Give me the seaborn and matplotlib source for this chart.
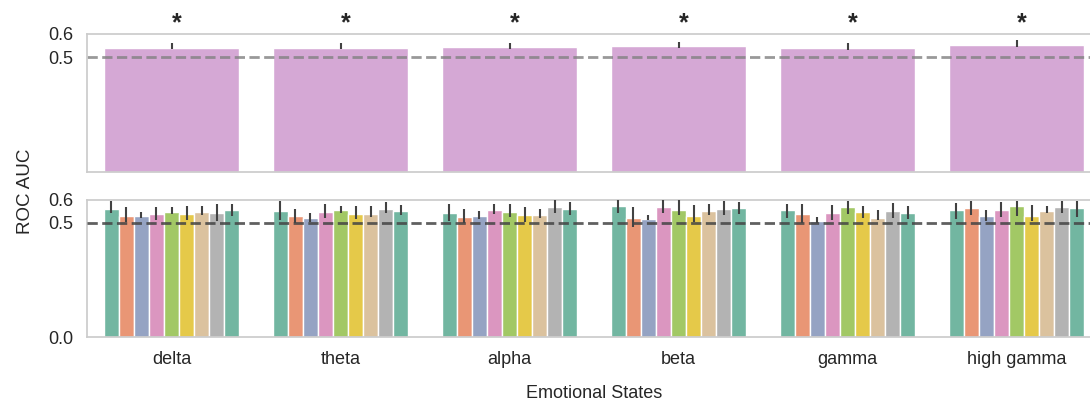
import matplotlib
matplotlib.use("Agg")
import matplotlib.pyplot as plt
import numpy as np
import pandas as pd
import seaborn as sns

sns.set_theme(style="whitegrid")
plt.rcParams["font.family"] = ["Liberation Sans", "DejaVu Sans"]
plt.rcParams["axes.grid"] = False

bands = ["delta", "theta", "alpha", "beta", "gamma", "high gamma"]
participants = ["P1", "P2", "P3", "P4", "P5", "P6", "P7", "P8", "P9"]

# pooled decoding performance per band, with 95% CI bounds
pooled_auc = [0.539, 0.539, 0.543, 0.548, 0.539, 0.552]
pooled_lo = [0.533, 0.533, 0.534, 0.538, 0.530, 0.542]
pooled_hi = [0.561, 0.561, 0.562, 0.567, 0.560, 0.574]

# per-participant decoding performance (rows: bands, columns: participants)
auc_delta = [0.559, 0.531, 0.531, 0.537, 0.546, 0.540, 0.548, 0.543, 0.556]
auc_theta = [0.550, 0.530, 0.521, 0.548, 0.555, 0.540, 0.540, 0.562, 0.550]
auc_alpha = [0.542, 0.527, 0.531, 0.556, 0.548, 0.533, 0.534, 0.568, 0.562]
auc_beta = [0.574, 0.523, 0.518, 0.569, 0.556, 0.531, 0.553, 0.561, 0.564]
auc_gamma = [0.555, 0.537, 0.508, 0.543, 0.569, 0.546, 0.523, 0.552, 0.543]
auc_high_gamma = [0.555, 0.565, 0.528, 0.555, 0.572, 0.531, 0.552, 0.569, 0.565]

lo_delta = [0.542, 0.502, 0.523, 0.512, 0.537, 0.512, 0.533, 0.509, 0.531]
lo_theta = [0.512, 0.498, 0.504, 0.521, 0.543, 0.515, 0.524, 0.543, 0.533]
lo_alpha = [0.509, 0.498, 0.518, 0.539, 0.524, 0.505, 0.523, 0.542, 0.536]
lo_beta = [0.542, 0.483, 0.511, 0.542, 0.533, 0.504, 0.534, 0.534, 0.540]
lo_gamma = [0.521, 0.498, 0.501, 0.512, 0.537, 0.521, 0.512, 0.521, 0.518]
lo_high_gamma = [0.518, 0.536, 0.507, 0.524, 0.530, 0.507, 0.542, 0.542, 0.524]

hi_delta = [0.594, 0.568, 0.546, 0.568, 0.568, 0.572, 0.572, 0.582, 0.582]
hi_theta = [0.594, 0.561, 0.543, 0.581, 0.572, 0.572, 0.572, 0.591, 0.577]
hi_alpha = [0.582, 0.561, 0.551, 0.581, 0.581, 0.569, 0.561, 0.599, 0.590]
hi_beta = [0.599, 0.569, 0.533, 0.599, 0.599, 0.577, 0.581, 0.594, 0.590]
hi_gamma = [0.582, 0.582, 0.526, 0.577, 0.594, 0.575, 0.555, 0.588, 0.572]
hi_high_gamma = [0.588, 0.596, 0.555, 0.590, 0.594, 0.577, 0.572, 0.596, 0.596]

auc_rows = [auc_delta, auc_theta, auc_alpha, auc_beta, auc_gamma, auc_high_gamma]
lo_rows = [lo_delta, lo_theta, lo_alpha, lo_beta, lo_gamma, lo_high_gamma]
hi_rows = [hi_delta, hi_theta, hi_alpha, hi_beta, hi_gamma, hi_high_gamma]

chance = 0.5
err_color = ".26"

W, H = 1090, 398
fig = plt.figure(figsize=(W / 100, H / 100), dpi=100)
ax_top = fig.add_axes([87 / W, 1 - 172 / H, 1014 / W, 138 / H])
ax_bot = fig.add_axes([87 / W, 1 - 337 / H, 1014 / W, 137 / H])

# --- pooled panel ---
top_df = pd.DataFrame({"band": bands, "auc": pooled_auc})
sns.barplot(data=top_df, x="band", y="auc", color="plum", errorbar=None,
            width=0.8, ax=ax_top)
for bar, lo, hi in zip(ax_top.patches, pooled_lo, pooled_hi):
    xc = bar.get_x() + bar.get_width() / 2
    ax_top.vlines(xc, lo, hi, color=err_color, lw=1.5, zorder=3)
    ax_top.annotate("*", xy=(xc, 0.648), xytext=(4, 0), textcoords="offset points",
                    ha="center", va="center", fontsize=18, fontweight="bold",
                    color=".15", annotation_clip=False)
ax_top.axhline(chance, ls="--", color="gray", lw=2, alpha=0.8, zorder=2)
ax_top.set_xlim(-0.5, len(bands) - 0.5)
ax_top.set_ylim(0, 0.6)
ax_top.set_yticks([0.5, 0.6])
ax_top.tick_params(axis="x", labelbottom=False, length=0)
ax_top.tick_params(axis="y", pad=10, length=0, labelsize=13)
ax_top.set_xlabel("")
ax_top.set_ylabel("")

# --- per-participant panel ---
long_df = pd.DataFrame(
    [(b, p, auc_rows[i][j]) for i, b in enumerate(bands) for j, p in enumerate(participants)],
    columns=["band", "participant", "auc"],
)
sns.barplot(data=long_df, x="band", y="auc", hue="participant", palette="Set2",
            errorbar=None, width=0.8, legend=False, ax=ax_bot)
for j, container in enumerate(ax_bot.containers):
    for i, bar in enumerate(container):
        xc = bar.get_x() + bar.get_width() / 2
        ax_bot.vlines(xc, lo_rows[i][j], hi_rows[i][j], color=err_color, lw=1.5, zorder=3)
ax_bot.axhline(chance, ls="--", color="#444444", lw=2, alpha=0.85, zorder=4)
ax_bot.set_xlim(-0.5, len(bands) - 0.5)
ax_bot.set_ylim(0, 0.6)
ax_bot.set_yticks([0.0, 0.5, 0.6])
ax_bot.tick_params(axis="x", pad=10, labelsize=13, length=0)
ax_bot.tick_params(axis="y", pad=10, length=0, labelsize=13)
ax_bot.set_ylabel("")
ax_bot.set_xlabel("Emotional States", fontsize=13, labelpad=12)

for ax in (ax_top, ax_bot):
    for s in ax.spines.values():
        s.set_color(".8")
        s.set_linewidth(1.25)

fig.text(25 / W, 1 - 191.5 / H, "ROC AUC", rotation=90, ha="center", va="center",
         fontsize=13.5)

fig.savefig("out.png", dpi=100)
